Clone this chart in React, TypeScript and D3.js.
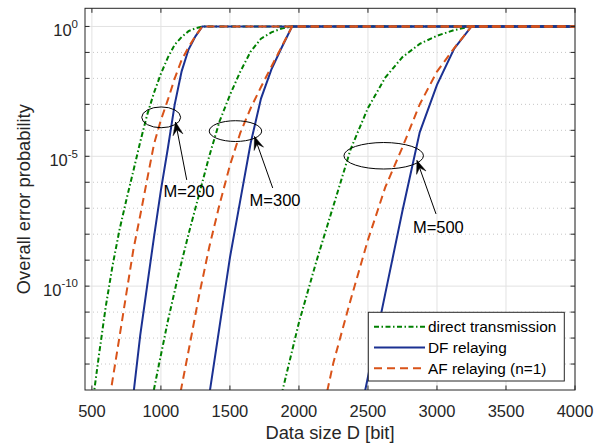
import React from 'react';
import * as d3 from 'd3';

// ---------- data (D in bit, values are log10 of overall error probability) ----------
const xTicks = [500, 1000, 1500, 2000, 2500, 3000, 3500, 4000];
const yMajorExp = [0, -5, -10];
const yDecadeExp = [0, -1, -2, -3, -4, -5, -6, -7, -8, -9, -10, -11, -12, -13];

// M = 200
const dDirect200 = [500, 550, 600, 650, 700, 750, 800, 850, 900, 950, 1000, 1050, 1100, 1150, 1200, 1250, 1300, 4000];
const eDirect200 = [-14.7, -12.7, -10.8, -9.2, -7.83, -6.67, -5.57, -4.45, -3.41, -2.55, -1.82, -1.2, -0.7, -0.41, -0.18, -0.07, 0, 0];
const dDF200 = [750, 800, 850, 900, 950, 1000, 1050, 1100, 1150, 1200, 1250, 1300, 4000];
const eDF200 = [-16.3, -14.2, -11.9, -10, -8.1, -6.3, -4.7, -3.0, -1.73, -0.89, -0.38, 0, 0];
const dAF200 = [600, 650, 700, 750, 800, 850, 900, 950, 1000, 1050, 1100, 1150, 1200, 1250, 1300, 4000];
const eAF200 = [-15.3, -13.6, -11.95, -10.27, -8.61, -7.28, -5.9, -4.53, -3.6, -2.83, -2.0, -1.29, -0.8, -0.37, 0, 0];

// M = 300
const dDirect300 = [900, 975, 1050, 1125, 1200, 1275, 1350, 1425, 1500, 1575, 1650, 1725, 1800, 1875, 1950, 4000];
const eDirect300 = [-15.3, -13.3, -11.35, -9.6, -8.0, -6.5, -5.0, -3.65, -2.64, -1.74, -0.97, -0.47, -0.23, -0.08, 0, 0];
const dDF300 = [1275, 1350, 1425, 1500, 1575, 1650, 1725, 1800, 1875, 1950, 4000];
const eDF300 = [-16.5, -14.2, -11.55, -8.9, -6.7, -4.5, -2.78, -1.66, -0.81, 0, 0];
const dAF300 = [1125, 1200, 1275, 1350, 1425, 1500, 1575, 1650, 1725, 1800, 1875, 1950, 4000];
const eAF300 = [-14.55, -12.5, -10.4, -8.5, -6.85, -5.35, -4.1, -3.15, -2.33, -1.55, -0.78, 0, 0];

// M = 500
const dDirect500 = [1875, 2000, 2125, 2250, 2375, 2500, 2625, 2750, 2875, 3000, 3125, 3250, 4000];
const eDirect500 = [-14.15, -11.4, -9.07, -6.9, -4.72, -3.14, -1.97, -1.18, -0.67, -0.36, -0.14, 0, 0];
const dDF500 = [2375, 2500, 2625, 2750, 2875, 3000, 3125, 3250, 4000];
const eDF500 = [-16.7, -13.5, -10.3, -7.1, -4.08, -2.25, -0.85, 0, 0];
const dAF500 = [2125, 2250, 2375, 2500, 2625, 2750, 2875, 3000, 3125, 3250, 4000];
const eAF500 = [-16.0, -12.94, -10.52, -8.22, -6.2, -4.65, -3.0, -1.74, -0.83, 0, 0];

// annotations (data coordinates: D, log10 P)
const annLabels = ['M=200', 'M=300', 'M=500'];
const ellCenterD = [1002, 1540, 2614];
const ellCenterE = [-3.5, -4.03, -4.98];
const ellRadD = [141, 190, 288];
const ellRadE = [0.4, 0.4, 0.51];
const arrowTailD = [1187, 1810, 2993];
const arrowTailE = [-5.91, -6.22, -7.22];
const arrowTipD = [1106, 1678, 2855];
const arrowTipE = [-3.68, -4.24, -5.16];
const textD = [1203, 1827, 3010];
const textE = [-6.35, -6.7, -7.74];

const legendLabels = ['direct transmission', 'DF relaying', 'AF relaying (n=1)'];

// ---------- styling ----------
const FONT = '"Liberation Sans", Arial, Helvetica, sans-serif';
const C_GREEN = '#008000';
const C_BLUE = '#1b3192';
const C_ORANGE = '#d95319';
const AX = '#262626';
const DASH_GREEN = '5,2.5,1.5,2.5';
const DASH_ORANGE = '8,5';

const L = 85, R = 575, T = 8.3, B = 390;

export default function App() {
  const x = d3.scaleLinear().domain([450, 4000]).range([L, R]);
  const y = d3.scaleLog().domain([1e-14, 5]).range([B, T]);
  const ye = (e: number) => y(Math.pow(10, e));

  const line = d3
    .line<[number, number]>()
    .x((d) => x(d[0]))
    .y((d) => ye(d[1]));

  const zip = (ds: number[], es: number[]) => ds.map((d, i) => [d, es[i]] as [number, number]);

  const directs = [zip(dDirect200, eDirect200), zip(dDirect300, eDirect300), zip(dDirect500, eDirect500)];
  const dfs = [zip(dDF200, eDF200), zip(dDF300, eDF300), zip(dDF500, eDF500)];
  const afs = [zip(dAF200, eAF200), zip(dAF300, eAF300), zip(dAF500, eAF500)];

  const tickLen = 4.5;

  const arrowHead = (tx: number, ty: number, hx: number, hy: number) => {
    const dx = hx - tx, dy = hy - ty;
    const len = Math.sqrt(dx * dx + dy * dy);
    const ux = dx / len, uy = dy / len;
    const nx = -uy, ny = ux;
    const HL = 13, HW = 10;
    const p1 = [hx, hy];
    const p2 = [hx - HL * ux + (HW / 2) * nx, hy - HL * uy + (HW / 2) * ny];
    const p3 = [hx - 0.6 * HL * ux, hy - 0.6 * HL * uy];
    const p4 = [hx - HL * ux - (HW / 2) * nx, hy - HL * uy - (HW / 2) * ny];
    return `M${p1[0]},${p1[1]}L${p2[0]},${p2[1]}L${p3[0]},${p3[1]}L${p4[0]},${p4[1]}Z`;
  };

  // legend geometry
  const lgX0 = 368.3, lgY0 = 312.3, lgW = 196, lgH = 68.7;
  const lgRows = [326.7, 347.5, 368.3];

  return (
    <svg
      width={599}
      height={444}
      style={{ position: 'absolute', left: 0, top: 0, background: '#fff' }}
      fontFamily={FONT}
    >
      <defs>
        <clipPath id="plotclip">
          <rect x={L} y={T} width={R - L} height={B - T} />
        </clipPath>
      </defs>
      <rect x={0} y={0} width={599} height={444} fill="#fff" />
      <rect x={L} y={T} width={R - L} height={B - T} fill="#fff" />

      {/* minor grid (dotted) */}
      {yDecadeExp
        .filter((e) => !yMajorExp.includes(e))
        .map((e) => (
          <line
            key={'mg' + e}
            x1={L}
            x2={R}
            y1={ye(e)}
            y2={ye(e)}
            stroke="#b8b8b8"
            strokeWidth={0.8}
            strokeDasharray="1,3"
          />
        ))}
      {/* major grid */}
      {yMajorExp.map((e) => (
        <line key={'yg' + e} x1={L} x2={R} y1={ye(e)} y2={ye(e)} stroke="#e2e2e2" strokeWidth={1} />
      ))}
      {xTicks.map((t) => (
        <line key={'xg' + t} x1={x(t)} x2={x(t)} y1={T} y2={B} stroke="#e2e2e2" strokeWidth={1} />
      ))}

      {/* curves */}
      <g clipPath="url(#plotclip)" fill="none" strokeWidth={2}>
        {directs.map((s, i) => (
          <path key={'g' + i} d={line(s) || ''} stroke={C_GREEN} strokeDasharray={DASH_GREEN} />
        ))}
        {dfs.map((s, i) => (
          <path key={'b' + i} d={line(s) || ''} stroke={C_BLUE} />
        ))}
        {afs.map((s, i) => (
          <path key={'o' + i} d={line(s) || ''} stroke={C_ORANGE} strokeDasharray={DASH_ORANGE} />
        ))}
      </g>

      {/* annotations */}
      {annLabels.map((lab, i) => {
        const cx = x(ellCenterD[i]);
        const cy = ye(ellCenterE[i]);
        const rx = x(ellCenterD[i] + ellRadD[i]) - cx;
        const ry = cy - ye(ellCenterE[i] + ellRadE[i]);
        const tx = x(arrowTailD[i]), ty = ye(arrowTailE[i]);
        const hx = x(arrowTipD[i]), hy = ye(arrowTipE[i]);
        return (
          <g key={'ann' + i}>
            <ellipse cx={cx} cy={cy} rx={rx} ry={ry} fill="none" stroke="#000" strokeWidth={1} />
            <line x1={tx} y1={ty} x2={hx} y2={hy} stroke="#000" strokeWidth={1} />
            <path d={arrowHead(tx, ty, hx, hy)} fill="#000" stroke="#000" strokeWidth={0.5} />
            <text
              x={x(textD[i])}
              y={ye(textE[i])}
              textAnchor="middle"
              dominantBaseline="central"
              fontSize={16.5}
              fill="#000"
            >
              {lab}
            </text>
          </g>
        );
      })}

      {/* axes box */}
      <rect x={L} y={T} width={R - L} height={B - T} fill="none" stroke={AX} strokeWidth={1} />

      {/* ticks */}
      {xTicks.map((t) => (
        <g key={'xt' + t}>
          <line x1={x(t)} x2={x(t)} y1={B} y2={B - tickLen} stroke={AX} strokeWidth={1} />
          <line x1={x(t)} x2={x(t)} y1={T} y2={T + tickLen} stroke={AX} strokeWidth={1} />
          <text x={x(t)} y={417} textAnchor="middle" fontSize={16.5} fill={AX}>
            {t}
          </text>
        </g>
      ))}
      {yDecadeExp.map((e) => (
        <g key={'yt' + e}>
          <line x1={L} x2={L + tickLen} y1={ye(e)} y2={ye(e)} stroke={AX} strokeWidth={1} />
          <line x1={R} x2={R - tickLen} y1={ye(e)} y2={ye(e)} stroke={AX} strokeWidth={1} />
        </g>
      ))}
      {yMajorExp.map((e) => (
        <text key={'yl' + e} x={78} y={ye(e) + 9.8} textAnchor="end" fontSize={16.5} fill={AX}>
          <tspan>10</tspan>
          <tspan dy={-8.5} fontSize={11.5}>
            {String(e)}
          </tspan>
        </text>
      ))}

      {/* axis labels */}
      <text x={(L + R) / 2} y={439} textAnchor="middle" fontSize={18.3} fill={AX}>
        Data size D [bit]
      </text>
      <text
        transform={`translate(30,${(T + B) / 2}) rotate(-90)`}
        textAnchor="middle"
        fontSize={18.3}
        fill={AX}
      >
        Overall error probability
      </text>

      {/* legend */}
      <rect x={lgX0} y={lgY0} width={lgW} height={lgH} fill="#fff" stroke={AX} strokeWidth={1} />
      {legendLabels.map((lab, i) => {
        const yy = lgRows[i];
        const stroke = i === 0 ? C_GREEN : i === 1 ? C_BLUE : C_ORANGE;
        const dash = i === 0 ? DASH_GREEN : i === 2 ? DASH_ORANGE : undefined;
        return (
          <g key={'lg' + i}>
            <line x1={374} x2={425} y1={yy} y2={yy} stroke={stroke} strokeWidth={2} strokeDasharray={dash} />
            <text x={428} y={yy} dominantBaseline="central" fontSize={15.4} fill="#000">
              {lab}
            </text>
          </g>
        );
      })}
    </svg>
  );
}
